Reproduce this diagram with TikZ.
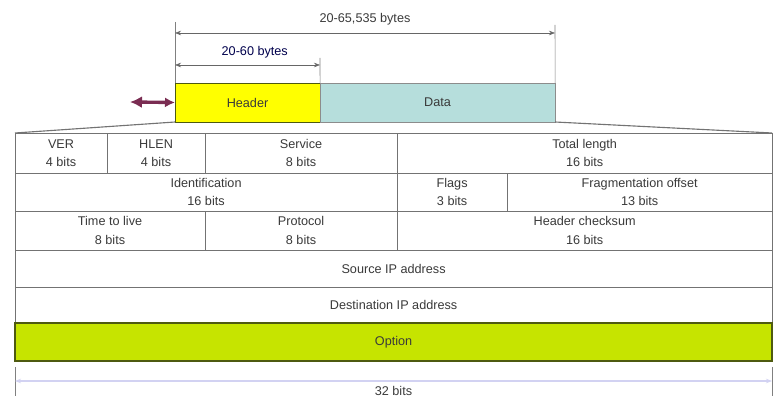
\documentclass[tikz,border=0pt]{standalone}
\usepackage{fontspec}
\setmainfont{Liberation Sans}
\usepackage{tikz}
\usetikzlibrary{arrows.meta,positioning,calc}
\definecolor{hdryellow}{HTML}{FFFF00}
\definecolor{datateal}{HTML}{B6DEDC}
\definecolor{optgreen}{HTML}{C6E400}
\definecolor{optedge}{HTML}{4E5A10}
\definecolor{dimlav}{HTML}{D2D2F2}
\definecolor{txtgray}{HTML}{3A3A3A}
\definecolor{arrplum}{HTML}{7A2C52}
\tikzset{
	fieldbox/.style={rectangle, draw=black!55, fill=white, outer sep=0pt, inner sep=1pt,
		align=center, text=txtgray, font=\fontsize{9}{13}\selectfont, anchor=north west},
	dimarr/.style={{Stealth[length=1.5mm]}-{Stealth[length=1.5mm]}, draw=black!60},
	dimtick/.style={draw=black!50, thin}
}

\begin{document}
\begin{tikzpicture}[x=0.025cm, y=-0.025cm]
			\useasboundingbox (0,0) rectangle (775,398);
			% datagram
			\node[fieldbox, fill=hdryellow, draw=optedge, minimum width=3.625cm, minimum height=0.975cm] (header) at (175,83) {Header};
			\node[fieldbox, fill=datateal, draw=black!45, minimum width=5.875cm, minimum height=0.975cm, right=0pt of header] (data) {Data};
			\coordinate (arrtail) at (130,102);
			\draw[{Latex[length=3mm,width=3mm]}-{Latex[length=2.5mm,width=2.5mm]}, line width=2.4pt, draw=arrplum] (arrtail) -- (header.west);
			% byte ranges
			\coordinate (totl) at (175,22);
			\coordinate (totr) at (555,25);
			\coordinate (hdrr) at (320,58);
			\draw[dimtick] (totl) -- (header.north west);
			\draw[dimtick] (totr) -- (data.north east);
			\draw[dimtick] (hdrr) -- (header.north east);
			\coordinate (tota) at (175,33);
			\coordinate (totb) at (555,33);
			\coordinate (hdra) at (175,65);
			\coordinate (hdrb) at (320,65);
			\draw[dimarr] (tota) -- node[above=2pt, text=txtgray, font=\fontsize{9}{11}\selectfont] (totlbl) {20-65,535 bytes} (totb);
			\draw[dimarr] (hdra) -- node[above=1pt, pos=0.55, text=blue!30!black, font=\fontsize{9}{11}\selectfont] (hdrlbl) {20-60 bytes} (hdrb);
			% header fields
			\node[fieldbox, minimum width=2.3cm, minimum height=1cm] (ver) at (15,133) {VER\\4 bits};
			\node[fieldbox, minimum width=2.45cm, minimum height=1cm, right=0pt of ver] (hlen) {HLEN\\4 bits};
			\node[fieldbox, minimum width=4.8cm, minimum height=1cm, right=0pt of hlen] (service) {Service\\8 bits};
			\node[fieldbox, minimum width=9.375cm, minimum height=1cm, right=0pt of service] (totlen) {Total length\\16 bits};
			\node[fieldbox, minimum width=9.55cm, minimum height=0.95cm, below=0pt of ver.south west, anchor=north west] (ident) {Identification\\16 bits};
			\node[fieldbox, minimum width=2.75cm, minimum height=0.95cm, right=0pt of ident] (flags) {Flags\\3 bits};
			\node[fieldbox, minimum width=6.625cm, minimum height=0.95cm, right=0pt of flags] (fragoff) {Fragmentation offset\\13 bits};
			\node[fieldbox, minimum width=4.75cm, minimum height=0.975cm, below=0pt of ident.south west, anchor=north west] (ttl) {Time to live\\8 bits};
			\node[fieldbox, minimum width=4.8cm, minimum height=0.975cm, right=0pt of ttl] (proto) {Protocol\\8 bits};
			\node[fieldbox, minimum width=9.375cm, minimum height=0.975cm, right=0pt of proto] (chksum) {Header checksum\\16 bits};
			\node[fieldbox, minimum width=18.925cm, minimum height=0.925cm, below=0pt of ttl.south west, anchor=north west] (srcip) {Source IP address};
			\node[fieldbox, minimum width=18.925cm, minimum height=0.9cm, below=0pt of srcip.south west, anchor=north west] (dstip) {Destination IP address};
			\node[fieldbox, fill=optgreen, draw=optedge, line width=1.2pt, minimum width=18.925cm, minimum height=0.95cm, below=0pt of dstip.south west, anchor=north west] (option) {Option};
			% fan out
			\draw[draw=black!55, thick] (header.south west) -- (ver.north west);
			\draw[draw=black!55, thick] (data.south east) -- (totlen.north east);
			% width
			\coordinate (wl) at (15,367);
			\coordinate (wr) at (772,367);
			\coordinate (wl2) at (15,396);
			\coordinate (wr2) at (772,396);
			\draw[dimtick] (wl) -- (wl2);
			\draw[dimtick] (wr) -- (wr2);
			\coordinate (wa) at (15,381);
			\coordinate (wb) at (772,381);
			\draw[dimarr, draw=dimlav, line width=1.2pt] (wa) -- node[below=0pt, text=txtgray, font=\fontsize{9}{11}\selectfont] (widthlbl) {32 bits} (wb);
		\end{tikzpicture}
\end{document}
